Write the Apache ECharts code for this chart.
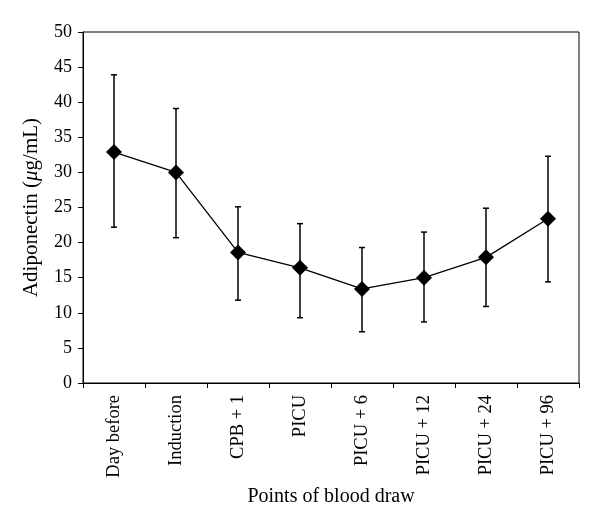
<!DOCTYPE html>
<html>
<head>
<meta charset="utf-8">
<script src="https://cdn.jsdelivr.net/npm/echarts@6/dist/echarts.min.js"></script>
<style>
  html, body { margin: 0; padding: 0; background: #fff; }
  #chart { width: 600px; height: 532px; }
</style>
</head>
<body>
<div id="chart"></div>
<script>
  // blood draw time points
  var categories = ['Day before', 'Induction', 'CPB + 1', 'PICU', 'PICU + 6', 'PICU + 12', 'PICU + 24', 'PICU + 96']
  // mean adiponectin (µg/mL)
  var means = [32.9, 30.0, 18.6, 16.4, 13.4, 15.0, 17.9, 23.4]
  // error bar ends
  var upper = [43.9, 39.1, 25.1, 22.7, 19.3, 21.5, 24.9, 32.3]
  var lower = [22.2, 20.7, 11.8, 9.3, 7.3, 8.7, 10.9, 14.4]
  var yTicks = [0, 5, 10, 15, 20, 25, 30, 35, 40, 45, 50]

  var font = '"Liberation Serif", "DejaVu Serif", serif'
  var chart = echarts.init(document.getElementById('chart'))

  var errData = categories.map(function (c, i) {
    return [i, lower[i], upper[i]]
  })

  chart.setOption({
    animation: false,
    textStyle: { fontFamily: font, color: '#000' },
    grid: {
      left: 83,
      right: 21,
      top: 32,
      bottom: 149,
      show: true,
      borderColor: '#000',
      borderWidth: 1
    },
    xAxis: {
      type: 'category',
      data: categories,
      boundaryGap: true,
      name: 'Points of blood draw',
      nameLocation: 'middle',
      nameGap: 104,
      nameTextStyle: { fontFamily: font, fontSize: 20, color: '#000' },
      axisLine: { lineStyle: { color: '#000', width: 1 } },
      axisTick: { show: true, length: 5, alignWithLabel: false, lineStyle: { color: '#000' } },
      axisLabel: { rotate: 90, margin: 12, fontFamily: font, fontSize: 18.5, color: '#000', interval: 0 },
      splitLine: { show: false }
    },
    yAxis: {
      type: 'value',
      min: yTicks[0],
      max: yTicks[yTicks.length - 1],
      interval: 5,
      name: '{a|Adiponectin (}{i|μ}{a|g/mL)}',
      nameLocation: 'middle',
      nameGap: 41,
      nameTextStyle: {
        rich: {
          a: { fontFamily: font, fontSize: 21, color: '#000' },
          i: { fontFamily: font, fontSize: 21, fontStyle: 'italic', color: '#000' }
        }
      },
      axisLine: { show: true, lineStyle: { color: '#000', width: 1 } },
      axisTick: { show: true, length: 5, lineStyle: { color: '#000' } },
      axisLabel: { margin: 11, fontFamily: font, fontSize: 18, color: '#000' },
      splitLine: { show: false }
    },
    series: [
      {
        type: 'custom',
        name: 'error',
        data: errData,
        z: 1,
        renderItem: function (params, api) {
          var x = api.value(0)
          var lo = api.coord([x, api.value(1)])
          var hi = api.coord([x, api.value(2)])
          var w = 3
          var st = { stroke: '#000', lineWidth: 1.5 }
          return {
            type: 'group',
            children: [
              { type: 'line', shape: { x1: hi[0], y1: hi[1], x2: lo[0], y2: lo[1] }, style: st },
              { type: 'line', shape: { x1: hi[0] - w, y1: hi[1], x2: hi[0] + w, y2: hi[1] }, style: st },
              { type: 'line', shape: { x1: lo[0] - w, y1: lo[1], x2: lo[0] + w, y2: lo[1] }, style: st }
            ]
          }
        }
      },
      {
        type: 'line',
        name: 'mean',
        data: means,
        z: 2,
        symbol: 'diamond',
        symbolSize: 16,
        lineStyle: { color: '#000', width: 1.3 },
        itemStyle: { color: '#000' }
      }
    ]
  })
</script>
</body>
</html>
